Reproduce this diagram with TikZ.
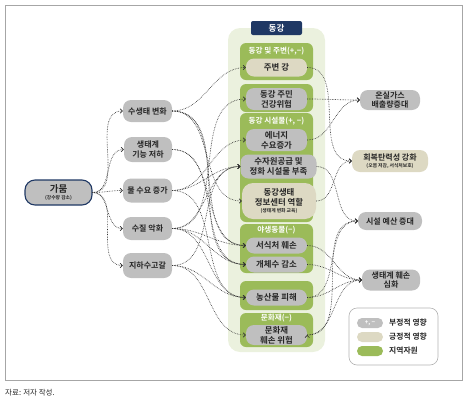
\documentclass[tikz,border=0pt]{standalone}
\usepackage{fontspec}
\setmainfont{Noto Sans CJK KR}[BoldFont={Noto Sans CJK KR Bold}]
\usetikzlibrary{arrows.meta}
\definecolor{negc}{HTML}{BFBFBF}
\definecolor{posc}{HTML}{DDD9C3}
\definecolor{grpc}{HTML}{9BBB59}
\definecolor{panelc}{HTML}{EBF1DE}
\definecolor{navy}{HTML}{1F3864}
\definecolor{txt}{HTML}{262626}
\definecolor{linec}{HTML}{333333}
\newcommand{\subtxt}[1]{{\fontsize{4.8}{6}\selectfont #1}}

\begin{document}
\begin{tikzpicture}[x=1pt, y=-1pt,
    box/.style={rectangle, rounded corners=8pt, align=center, inner sep=0pt, text=txt, font=\bfseries\fontsize{8}{9.5}\selectfont},
    negbox/.style={box, fill=negc},
    posbox/.style={box, fill=posc},
    mid/.style={font=\bfseries\fontsize{8.4}{9.8}\selectfont},
    grp/.style={rectangle, rounded corners=6pt, fill=grpc, minimum width=73},
    head/.style={text=white, inner sep=0pt, font=\bfseries\fontsize{7.6}{8}\selectfont},
    link/.style={densely dotted, line width=0.65pt, draw=linec, -{Straight Barb[length=2.2pt, width=4.4pt]}, out=0, in=180}]
    \useasboundingbox (0, 0) rectangle (472, 405);
    \node[draw=black!35, line width=0.8pt, minimum width=457, minimum height=375] (frame) at (233.5, 192.5) {};
    \node[anchor=west, inner sep=0pt, text=txt, font=\fontsize{7.5}{9}\selectfont] (src) at (5, 393) {자료: 저자 작성.};

    \node[rectangle, rounded corners=12pt, fill=panelc, minimum width=97, minimum height=324] (panel) at (276.5, 190) {};
    \node[rectangle, rounded corners=2pt, fill=navy, text=white, minimum width=51, minimum height=14, inner sep=0pt, font=\bfseries\fontsize{8.5}{9}\selectfont] (title) at (276.5, 28) {동강};

    \node[grp, minimum height=37] (g1) at (276.5, 61.5) {};
    \node[grp, minimum height=28] (g2) at (276.5, 98) {};
    \node[grp, minimum height=109] (g3) at (276.5, 167.5) {};
    \node[grp, minimum height=49] (g4) at (276.5, 248.5) {};
    \node[grp, minimum height=29] (g5) at (276.5, 295.5) {};
    \node[grp, minimum height=34] (g6) at (276.5, 330) {};
    \node[head] (h1) at (276.5, 51) {동강 및 주변(+,−)};
    \node[head] (h3) at (276.5, 121) {동강 시설물(+, −)};
    \node[head] (h4) at (276.5, 230) {야생동물(−)};
    \node[head] (h6) at (276.5, 318.5) {문화재(−)};

    \node[negbox, draw=navy, line width=1.1pt, minimum width=67, minimum height=25, rounded corners=10pt, font=\bfseries\fontsize{9.5}{9}\selectfont] (drought) at (58.5, 192.5) {가뭄\\[-2pt]\subtxt{(강수량 감소)}};
    \node[negbox, minimum width=49, minimum height=22] (eco) at (147.5, 111) {수생태 변화};
    \node[negbox, minimum width=48, minimum height=25] (func) at (148, 149.5) {생태계\\기능 저하};
    \node[negbox, minimum width=49, minimum height=24] (demand) at (147.5, 190.5) {물 수요 증가};
    \node[negbox, minimum width=49, minimum height=23] (quality) at (147.5, 228.5) {수질 악화};
    \node[negbox, minimum width=49, minimum height=25] (ground) at (147.5, 265.5) {지하수고갈};

    \node[posbox, mid, minimum width=61, minimum height=18] (river) at (276.5, 67.5) {주변 강};
    \node[negbox, mid, minimum width=61, minimum height=22] (health) at (276.5, 99) {동강 주민\\건강위험};
    \node[negbox, mid, minimum width=61, minimum height=22] (energy) at (276.5, 140) {에너지\\수요증가};
    \node[negbox, mid, minimum width=76, minimum height=24] (supply) at (278.5, 166.5) {수자원공급 및\\정화 시설물 부족};
    \node[posbox, mid, minimum width=74, minimum height=36, rounded corners=11pt] (center) at (279, 201) {동강생태\\정보센터 역할\\[-2pt]\subtxt{(생태계 변화 교육)}};
    \node[negbox, mid, minimum width=61, minimum height=16] (habitat) at (276.5, 245.5) {서식처 훼손};
    \node[negbox, mid, minimum width=61, minimum height=16] (pop) at (276.5, 264.5) {개체수 감소};
    \node[negbox, mid, minimum width=61, minimum height=16] (crop) at (276.5, 297.5) {농산물 피해};
    \node[negbox, mid, minimum width=61, minimum height=20] (heritage) at (276.5, 335) {문화재\\훼손 위험};

    \node[negbox, minimum width=60, minimum height=20] (ghg) at (390, 100) {온실가스\\배출량증대};
    \node[posbox, minimum width=76, minimum height=22] (resil) at (390, 161) {회복탄력성 강화\\[-2pt]\subtxt{(오염 저감, 서식처보호)}};
    \node[negbox, minimum width=64, minimum height=18] (budget) at (390, 221) {시설 예산 증대};
    \node[negbox, minimum width=58, minimum height=21] (damage) at (391, 280) {생태계 훼손\\심화};

    \node[draw=black!30, line width=0.6pt, rectangle, rounded corners=8pt, minimum width=89, minimum height=57] (legend) at (393.5, 336.5) {};
    \node[negbox, minimum width=26, minimum height=10, rounded corners=5pt, text=white, font=\bfseries\fontsize{6}{6}\selectfont] (k1) at (370, 323) {+, −};
    \node[posbox, minimum width=26, minimum height=10, rounded corners=5pt] (k2) at (370, 337) {};
    \node[box, fill=grpc, minimum width=26, minimum height=10, rounded corners=5pt] (k3) at (370, 351) {};
    \node[box, anchor=west, font=\bfseries\fontsize{7.8}{8}\selectfont] (l1) at (389, 323) {부정적 영향};
    \node[box, anchor=west, font=\bfseries\fontsize{7.8}{8}\selectfont] (l2) at (389, 337) {긍정적 영향};
    \node[box, anchor=west, font=\bfseries\fontsize{7.8}{8}\selectfont] (l3) at (389, 351) {지역자원};

    \draw[link]
    \foreach \y in {eco, func, demand, quality, ground} {
        (drought.east) edge (\y.west)
    }
    (eco.east) edge (river.west)
    (eco.east) edge (center.west)
    (eco.east) edge (habitat.west)
    (eco.east) edge (pop.west)
    (func.east) edge (habitat.west)
    (func.east) edge (pop.west)
    (demand.east) edge (energy.west)
    (demand.east) edge (supply.west)
    (demand.east) edge (crop.west)
    (quality.east) edge (health.west)
    (quality.east) edge (supply.west)
    (quality.east) edge (habitat.west)
    (quality.east) edge (pop.west)
    (quality.east) edge (crop.west)
    (ground.east) edge (supply.west)
    (ground.east) edge (crop.west)
    (ground.east) edge (heritage.west)
    (river.east) edge (resil.west)
    (health.east) edge (ghg.west)
    (energy.east) edge (ghg.west)
    (supply.east) edge (budget.west)
    (center.east) edge (resil.west)
    (habitat.east) edge (damage.west)
    (pop.east) edge (damage.west)
    (crop.east) edge (budget.west)
    (crop.east) edge (damage.west)
    (heritage.east) edge (budget.west)
    (heritage.east) edge (damage.west);
\end{tikzpicture}
\end{document}
